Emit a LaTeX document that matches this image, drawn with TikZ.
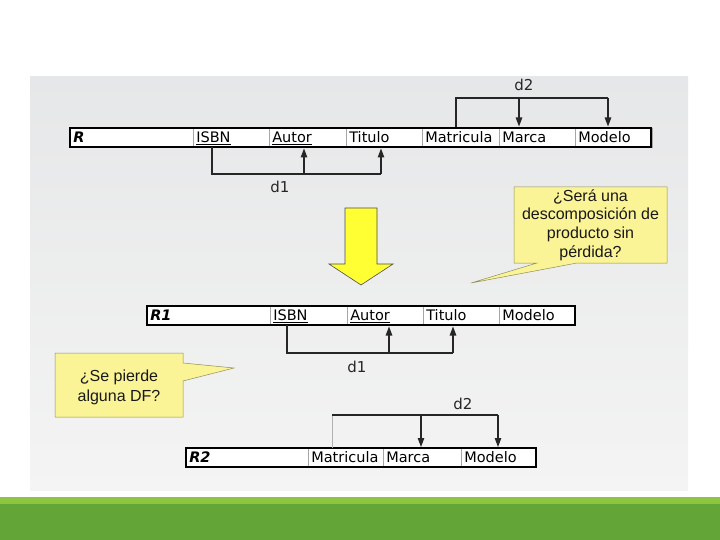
\documentclass[tikz,border=0pt]{standalone}
\usepackage{fontspec}
\setmainfont{Liberation Sans}
\newfontfamily\tabfont{DejaVu Sans}
\usetikzlibrary{arrows.meta}
\definecolor{panelTop}{HTML}{E6E7E8}
\definecolor{panelBot}{HTML}{F4F4F4}
\definecolor{lightGreen}{HTML}{8DC540}
\definecolor{darkGreen}{HTML}{63A537}
\definecolor{noteFill}{HTML}{FAF497}
\definecolor{noteLine}{HTML}{8E8E5A}
\definecolor{arrowFill}{HTML}{FFFF33}
\newcommand{\ulx}[1]{\underline{#1}}
\tikzset{
  cell/.style={rectangle, draw=gray!70, line width=0.6pt, fill=white, anchor=west,
    minimum height=19pt, inner xsep=3pt, inner ysep=0pt, align=left,
    text height=12pt, text depth=2pt,
    font=\tabfont\fontsize{14.5}{16}\selectfont, text=black},
  frame/.style={draw=black, line width=2.4pt},
  dep/.style={draw=black!85, line width=1.1pt},
  deparrow/.style={dep, -{Triangle[length=9pt,width=6.5pt]}},
  deplabel/.style={font=\tabfont\fontsize{15}{17}\selectfont, text=black!85, inner sep=0pt},
  note/.style={fill=noteFill, draw=noteLine, line width=0.5pt},
  notetext/.style={font=\fontsize{16}{18.7}\selectfont, align=center, text=black!90, inner sep=0pt},
}
\begin{document}
\begin{tikzpicture}[x=1pt,y=-1pt]
\useasboundingbox (0,0) rectangle (720,540);
% background
\fill[white] (0,0) rectangle (720,540);
\shade[top color=panelTop, bottom color=panelBot] (30,77) rectangle (688,490);
\fill[lightGreen] (0,497) rectangle (720,504);
\fill[darkGreen] (0,504) rectangle (720,540);

% ---------- Table R ----------
\node[cell, text width=117pt] (rlab) at (70,137.5) {\bfseries\itshape R};
\node[cell, text width=70pt] (risbn) at (193,137.5) {\ulx{ISBN}};
\node[cell, text width=71pt] (rautor) at (269,137.5) {\ulx{Autor}};
\node[cell, text width=70pt] (rtitulo) at (346,137.5) {Titulo};
\node[cell, text width=71pt] (rmatr) at (422,137.5) {Matricula};
\node[cell, text width=70pt] (rmarca) at (499,137.5) {Marca};
\node[cell, text width=71pt] (rmodelo) at (575,137.5) {Modelo};
\draw[frame] (70,128) rectangle (651,147);

% d1 of R
\coordinate (rd1a) at (212,147);
\coordinate (rd1b) at (212,174);
\coordinate (rd1c) at (381,174);
\coordinate (rd1m) at (304,174);
\coordinate (rd1at) at (304,148.5);
\coordinate (rd1tt) at (381,148.5);
\draw[dep] (rd1a) -- (rd1b) -- (rd1c);
\draw[deparrow] (rd1m) -- (rd1at);
\draw[deparrow] (rd1c) -- (rd1tt);
\node[deplabel] (rd1lab) at (280,187) {d1};

% d2 of R
\coordinate (rd2a) at (456,127);
\coordinate (rd2b) at (456,98);
\coordinate (rd2c) at (608,98);
\coordinate (rd2m) at (519,98);
\coordinate (rd2mt) at (519,126.5);
\coordinate (rd2ot) at (608,126.5);
\draw[dep] (rd2a) -- (rd2b) -- (rd2c);
\draw[deparrow] (rd2m) -- (rd2mt);
\draw[deparrow] (rd2c) -- (rd2ot);
\node[deplabel] (rd2lab) at (524,85) {d2};

% ---------- big yellow arrow ----------
\draw[fill=arrowFill, draw=black!70, line width=0.6pt]
  (345,208) -- (377,208) -- (377,264) -- (393,264) -- (361,285) -- (329,264) -- (345,264) -- cycle;

% ---------- note 1 ----------
\draw[note] (514,187) -- (667,187) -- (667,263) -- (577,263) -- (471,283) -- (537,263) -- (514,263) -- cycle;
\node[notetext] (note1) at (590.5,225) {¿Será una\\descomposición de\\producto sin\\pérdida?};

% ---------- Table R1 ----------
\node[cell, text width=117pt] (r1lab) at (147,315.5) {\bfseries\itshape R1};
\node[cell, text width=71pt] (r1isbn) at (270,315.5) {\ulx{ISBN}};
\node[cell, text width=70pt] (r1autor) at (347,315.5) {\ulx{Autor}};
\node[cell, text width=70pt] (r1titulo) at (423,315.5) {Titulo};
\node[cell, text width=70pt] (r1modelo) at (499,315.5) {Modelo};
\draw[frame] (147,306) rectangle (575,325);

\coordinate (r1d1a) at (287,325);
\coordinate (r1d1b) at (287,353);
\coordinate (r1d1c) at (453,353);
\coordinate (r1d1m) at (389,353);
\coordinate (r1d1at) at (389,326.5);
\coordinate (r1d1tt) at (453,326.5);
\draw[dep] (r1d1a) -- (r1d1b) -- (r1d1c);
\draw[deparrow] (r1d1m) -- (r1d1at);
\draw[deparrow] (r1d1c) -- (r1d1tt);
\node[deplabel] (r1d1lab) at (357,367) {d1};

% ---------- note 2 ----------
\draw[note] (55,353) -- (183,353) -- (183,363) -- (234,368) -- (183,381) -- (183,417) -- (55,417) -- cycle;
\node[notetext, font=\fontsize{16}{20}\selectfont] (note2) at (119,387) {¿Se pierde\\alguna DF?};

% ---------- Table R2 ----------
\node[cell, text width=116pt] (r2lab) at (186,457.5) {\bfseries\itshape R2};
\node[cell, text width=69pt] (r2matr) at (308,457.5) {Matricula};
\node[cell, text width=72pt] (r2marca) at (383,457.5) {Marca};
\node[cell, text width=69pt] (r2modelo) at (461,457.5) {Modelo};
\draw[frame] (186,448) rectangle (536,467);

\coordinate (r2d2a) at (332,448);
\coordinate (r2d2b) at (332,415);
\coordinate (r2d2c) at (498,415);
\coordinate (r2d2m) at (421,415);
\coordinate (r2d2mt) at (421,447);
\coordinate (r2d2ot) at (498,447);
\draw[dep, draw=gray!60, line width=0.8pt] (r2d2a) -- (r2d2b);
\draw[dep] (r2d2b) -- (r2d2c);
\draw[deparrow] (r2d2m) -- (r2d2mt);
\draw[deparrow] (r2d2c) -- (r2d2ot);
\node[deplabel] (r2d2lab) at (463,404) {d2};
\end{tikzpicture}
\end{document}
